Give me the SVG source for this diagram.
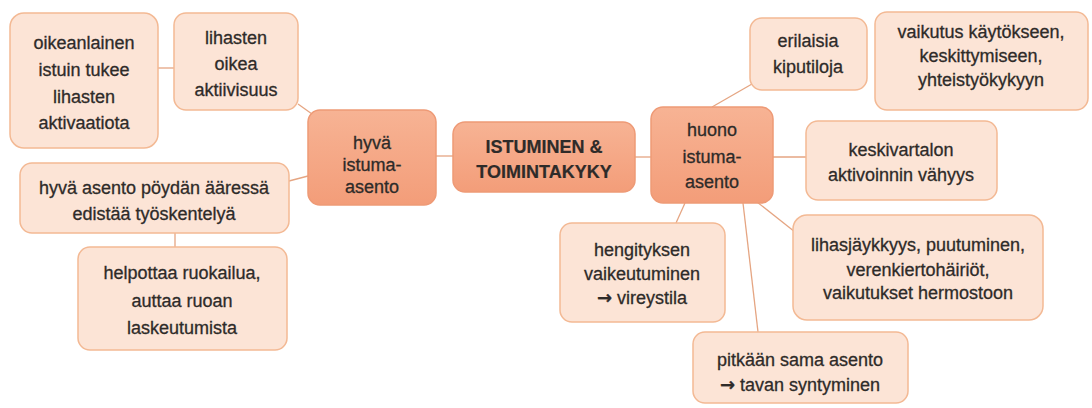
<svg xmlns="http://www.w3.org/2000/svg" width="1092" height="408" viewBox="0 0 1092 408">
<defs>
<linearGradient id="gMain" x1="0" y1="0" x2="0" y2="1">
<stop offset="0" stop-color="#F7B394"/>
<stop offset="1" stop-color="#F39D79"/>
</linearGradient>
<style>
.main{fill:url(#gMain);stroke:#EE9A76;stroke-width:1.5}
.leaf{fill:#FCE4D6;stroke:#F3B994;stroke-width:1.5}
.t{font-family:"Liberation Sans",Arial,sans-serif;font-size:18px;fill:#2e2b29;stroke:#2e2b29;stroke-width:0.3;text-anchor:middle}
.b{font-weight:bold;stroke-width:0.2}
.ar{font-family:"DejaVu Sans",sans-serif;font-weight:bold}
.c{stroke:#E5A582;stroke-width:1.3;fill:none}
</style>
</defs>
<rect width="1092" height="408" fill="#ffffff"/>
<g id="connectors">
<line class="c" x1="158" y1="68" x2="174" y2="68"/>
<line class="c" x1="298" y1="104" x2="312" y2="114"/>
<line class="c" x1="289" y1="181" x2="308" y2="176"/>
<line class="c" x1="175" y1="233" x2="175" y2="247"/>
<line class="c" x1="436" y1="156" x2="453" y2="156"/>
<line class="c" x1="635" y1="157" x2="651" y2="157"/>
<line class="c" x1="712" y1="107" x2="752" y2="84"/>
<line class="c" x1="773" y1="157" x2="806" y2="157"/>
<line class="c" x1="757" y1="202" x2="795" y2="232"/>
<line class="c" x1="685" y1="203" x2="676" y2="223"/>
<line class="c" x1="743" y1="203" x2="758" y2="332"/>
</g>
<g id="n-oikeanlainen">
<rect class="leaf" x="10" y="13" width="148" height="135" rx="14"/>
<text class="t" x="84" y="49">oikeanlainen</text>
<text class="t" x="84" y="76">istuin tukee</text>
<text class="t" x="84" y="103">lihasten</text>
<text class="t" x="84" y="129">aktivaatiota</text>
</g>
<g id="n-lihasten">
<rect class="leaf" x="174" y="13" width="124" height="97" rx="12"/>
<text class="t" x="236" y="44">lihasten</text>
<text class="t" x="236" y="70">oikea</text>
<text class="t" x="236" y="96">aktiivisuus</text>
</g>
<g id="n-hyva-asento">
<rect class="leaf" x="20" y="163" width="269" height="70" rx="12"/>
<text class="t" x="154" y="194">hyvä asento pöydän ääressä</text>
<text class="t" x="154" y="220">edistää työskentelyä</text>
</g>
<g id="n-helpottaa">
<rect class="leaf" x="78" y="247" width="209" height="103" rx="12"/>
<text class="t" x="182" y="279">helpottaa ruokailua,</text>
<text class="t" x="182" y="307">auttaa ruoan</text>
<text class="t" x="182" y="334">laskeutumista</text>
</g>
<g id="n-hyva-istuma">
<rect class="main" x="308" y="110" width="128" height="95" rx="12"/>
<text class="t" x="372" y="149">hyvä</text>
<text class="t" x="372" y="171">istuma-</text>
<text class="t" x="372" y="193">asento</text>
</g>
<g id="n-center">
<rect class="main" x="453" y="122" width="182" height="70" rx="12"/>
<text class="t b" x="544" y="153">ISTUMINEN &amp;</text>
<text class="t b" x="544" y="178">TOIMINTAKYKY</text>
</g>
<g id="n-huono">
<rect class="main" x="651" y="107" width="122" height="96" rx="12"/>
<text class="t" x="712" y="136">huono</text>
<text class="t" x="712" y="163">istuma-</text>
<text class="t" x="712" y="188">asento</text>
</g>
<g id="n-erilaisia">
<rect class="leaf" x="750" y="18" width="117" height="72" rx="12"/>
<text class="t" x="808" y="47">erilaisia</text>
<text class="t" x="808" y="73">kiputiloja</text>
</g>
<g id="n-vaikutus">
<rect class="leaf" x="875" y="12" width="213" height="98" rx="12"/>
<text class="t" x="981" y="38">vaikutus käytökseen,</text>
<text class="t" x="981" y="62">keskittymiseen,</text>
<text class="t" x="981" y="86">yhteistyökykyyn</text>
</g>
<g id="n-keskivartalon">
<rect class="leaf" x="806" y="121" width="191" height="79" rx="12"/>
<text class="t" x="901" y="156">keskivartalon</text>
<text class="t" x="901" y="181">aktivoinnin vähyys</text>
</g>
<g id="n-lihasjaykkyys">
<rect class="leaf" x="793" y="215" width="250" height="105" rx="14"/>
<text class="t" x="918" y="251">lihasjäykkyys, puutuminen,</text>
<text class="t" x="918" y="276">verenkiertohäiriöt,</text>
<text class="t" x="918" y="299">vaikutukset hermostoon</text>
</g>
<g id="n-hengityksen">
<rect class="leaf" x="560" y="223" width="165" height="99" rx="12"/>
<text class="t" x="642" y="256">hengityksen</text>
<text class="t" x="642" y="280">vaikeutuminen</text>
<text class="t" x="642" y="304"><tspan class="ar">→</tspan> vireystila</text>
</g>
<g id="n-pitkaan">
<rect class="leaf" x="693" y="332" width="215" height="71" rx="12"/>
<text class="t" x="800" y="366">pitkään sama asento</text>
<text class="t" x="800" y="391"><tspan class="ar">→</tspan> tavan syntyminen</text>
</g>
</svg>
